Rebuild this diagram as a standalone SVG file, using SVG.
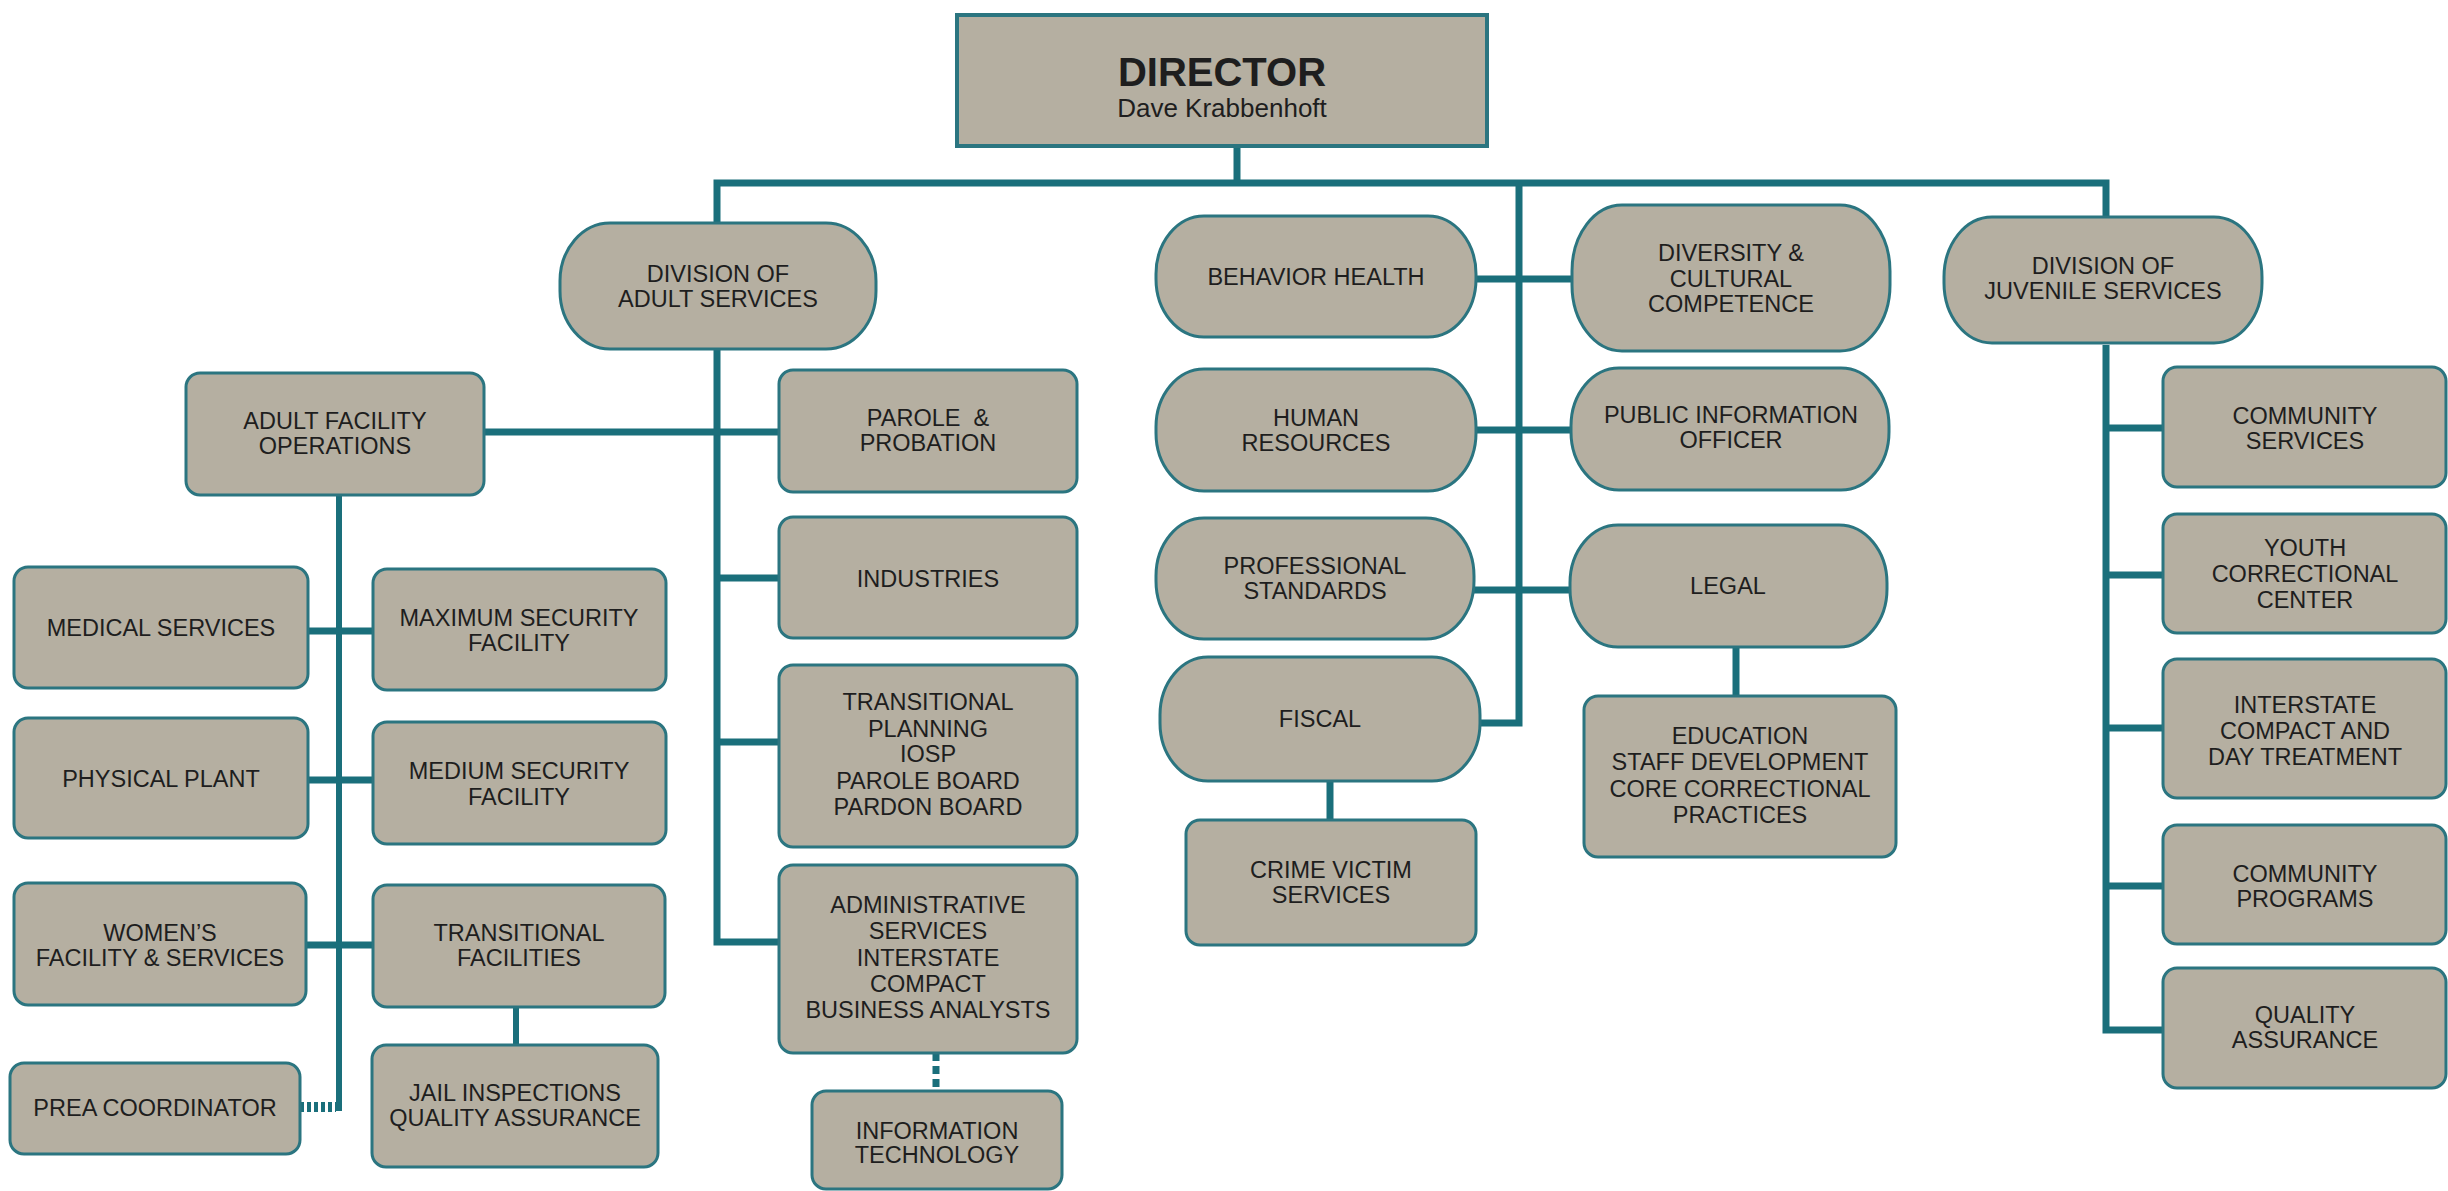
<svg xmlns="http://www.w3.org/2000/svg" width="2448" height="1191" viewBox="0 0 2448 1191">
<style>
.bx{fill:#b5afa1;stroke:#2b7580;stroke-width:3}
.t{font-family:"Liberation Sans",Arial,sans-serif;font-size:23.5px;fill:#1e1e1e;text-anchor:middle}
.c{fill:none;stroke:#1a6f7b;stroke-width:7;stroke-linejoin:miter;stroke-linecap:butt}
</style>
<rect width="2448" height="1191" fill="#ffffff"/>
<g id="connectors">
<path class="c" d="M1237 146V183"/>
<path class="c" d="M717 223V183H2106V217"/>
<path class="c" d="M1519 183V723H1479"/>
<path class="c" d="M1476 279H1572"/>
<path class="c" d="M1476 430H1571"/>
<path class="c" d="M1474 590H1570"/>
<path class="c" d="M1330 781V820"/>
<path class="c" d="M1736 647V696"/>
<path class="c" d="M717 349V942H779"/>
<path class="c" d="M484 432H779"/>
<path class="c" d="M717 578H779"/>
<path class="c" d="M717 742H779"/>
<path class="c" d="M936 1053V1091" stroke-dasharray="8 5"/>
<path class="c" d="M339 495V1111" style="stroke-width:6"/>
<path class="c" d="M300 1107H336" style="stroke-width:10" stroke-dasharray="4 3"/>
<path class="c" d="M308 631H373"/>
<path class="c" d="M308 780H373"/>
<path class="c" d="M306 945H373"/>
<path class="c" d="M516 1007V1045" style="stroke-width:6"/>
<path class="c" d="M2106 345V1030H2163"/>
<path class="c" d="M2106 428H2163"/>
<path class="c" d="M2106 575H2163"/>
<path class="c" d="M2106 728H2163"/>
<path class="c" d="M2106 886H2163"/>
</g>
<g id="director">
<rect class="bx" x="957" y="15" width="530" height="131" style="stroke-width:4"/>
<text class="t" x="1222" y="86" style="font-size:40px;font-weight:bold">DIRECTOR</text>
<text class="t" x="1222" y="117" style="font-size:26px">Dave Krabbenhoft</text>
</g>
<g id="adult-services">
<rect class="bx" x="560" y="223" width="316" height="126" rx="50" ry="58"/>
<text class="t"><tspan x="718" y="282">DIVISION OF</tspan><tspan x="718" y="307">ADULT SERVICES</tspan></text>
</g>
<g id="behavior-health">
<rect class="bx" x="1156" y="216" width="320" height="121" rx="48" ry="58"/>
<text class="t" x="1316" y="284.5">BEHAVIOR HEALTH</text>
</g>
<g id="diversity">
<rect class="bx" x="1572" y="205" width="318" height="146" rx="50" ry="66"/>
<text class="t"><tspan x="1731" y="261">DIVERSITY &amp;</tspan><tspan x="1731" y="286.5">CULTURAL</tspan><tspan x="1731" y="312">COMPETENCE</tspan></text>
</g>
<g id="juvenile-services">
<rect class="bx" x="1944" y="217" width="318" height="126" rx="48" ry="60"/>
<text class="t"><tspan x="2103" y="274">DIVISION OF</tspan><tspan x="2103" y="299">JUVENILE SERVICES</tspan></text>
</g>
<g id="human-resources">
<rect class="bx" x="1156" y="369" width="320" height="122" rx="48" ry="58"/>
<text class="t"><tspan x="1316" y="426">HUMAN</tspan><tspan x="1316" y="451">RESOURCES</tspan></text>
</g>
<g id="public-information">
<rect class="bx" x="1571" y="368" width="318" height="122" rx="48" ry="58"/>
<text class="t"><tspan x="1731" y="423">PUBLIC INFORMATION</tspan><tspan x="1731" y="448">OFFICER</tspan></text>
</g>
<g id="professional-standards">
<rect class="bx" x="1156" y="518" width="318" height="121" rx="48" ry="58"/>
<text class="t"><tspan x="1315" y="574">PROFESSIONAL</tspan><tspan x="1315" y="599">STANDARDS</tspan></text>
</g>
<g id="legal">
<rect class="bx" x="1570" y="525" width="317" height="122" rx="48" ry="58"/>
<text class="t" x="1728" y="593.5">LEGAL</text>
</g>
<g id="fiscal">
<rect class="bx" x="1160" y="657" width="320" height="124" rx="48" ry="58"/>
<text class="t" x="1320" y="726.5">FISCAL</text>
</g>
<g id="crime-victim">
<rect class="bx" x="1186" y="820" width="290" height="125" rx="14"/>
<text class="t"><tspan x="1331" y="878">CRIME VICTIM</tspan><tspan x="1331" y="903">SERVICES</tspan></text>
</g>
<g id="education">
<rect class="bx" x="1584" y="696" width="312" height="161" rx="14"/>
<text class="t"><tspan x="1740" y="744">EDUCATION</tspan><tspan x="1740" y="770">STAFF DEVELOPMENT</tspan><tspan x="1740" y="797">CORE CORRECTIONAL</tspan><tspan x="1740" y="823">PRACTICES</tspan></text>
</g>
<g id="adult-facility-operations">
<rect class="bx" x="186" y="373" width="298" height="122" rx="14"/>
<text class="t"><tspan x="335" y="429">ADULT FACILITY</tspan><tspan x="335" y="454">OPERATIONS</tspan></text>
</g>
<g id="parole-probation">
<rect class="bx" x="779" y="370" width="298" height="122" rx="14"/>
<text class="t" style="white-space:pre"><tspan x="928" y="426">PAROLE  &amp;</tspan><tspan x="928" y="451">PROBATION</tspan></text>
</g>
<g id="industries">
<rect class="bx" x="779" y="517" width="298" height="121" rx="14"/>
<text class="t" x="928" y="586.5">INDUSTRIES</text>
</g>
<g id="transitional-planning">
<rect class="bx" x="779" y="665" width="298" height="182" rx="14"/>
<text class="t"><tspan x="928" y="710">TRANSITIONAL</tspan><tspan x="928" y="737">PLANNING</tspan><tspan x="928" y="762">IOSP</tspan><tspan x="928" y="789">PAROLE BOARD</tspan><tspan x="928" y="815">PARDON BOARD</tspan></text>
</g>
<g id="administrative-services">
<rect class="bx" x="779" y="865" width="298" height="188" rx="14"/>
<text class="t"><tspan x="928" y="913">ADMINISTRATIVE</tspan><tspan x="928" y="939">SERVICES</tspan><tspan x="928" y="966">INTERSTATE</tspan><tspan x="928" y="992">COMPACT</tspan><tspan x="928" y="1018">BUSINESS ANALYSTS</tspan></text>
</g>
<g id="information-technology">
<rect class="bx" x="812" y="1091" width="250" height="98" rx="14"/>
<text class="t"><tspan x="937" y="1139">INFORMATION</tspan><tspan x="937" y="1163">TECHNOLOGY</tspan></text>
</g>
<g id="medical-services">
<rect class="bx" x="14" y="567" width="294" height="121" rx="14"/>
<text class="t" x="161" y="635.5">MEDICAL SERVICES</text>
</g>
<g id="maximum-security">
<rect class="bx" x="373" y="569" width="293" height="121" rx="14"/>
<text class="t"><tspan x="519" y="625.5">MAXIMUM SECURITY</tspan><tspan x="519" y="650.5">FACILITY</tspan></text>
</g>
<g id="physical-plant">
<rect class="bx" x="14" y="718" width="294" height="120" rx="14"/>
<text class="t" x="161" y="786.5">PHYSICAL PLANT</text>
</g>
<g id="medium-security">
<rect class="bx" x="373" y="722" width="293" height="122" rx="14"/>
<text class="t"><tspan x="519" y="778.5">MEDIUM SECURITY</tspan><tspan x="519" y="804.5">FACILITY</tspan></text>
</g>
<g id="womens-facility">
<rect class="bx" x="14" y="883" width="292" height="122" rx="14"/>
<text class="t"><tspan x="160" y="940.5">WOMEN’S</tspan><tspan x="160" y="965.5">FACILITY &amp; SERVICES</tspan></text>
</g>
<g id="transitional-facilities">
<rect class="bx" x="373" y="885" width="292" height="122" rx="14"/>
<text class="t"><tspan x="519" y="940.5">TRANSITIONAL</tspan><tspan x="519" y="965.5">FACILITIES</tspan></text>
</g>
<g id="prea-coordinator">
<rect class="bx" x="10" y="1063" width="290" height="91" rx="14"/>
<text class="t" x="155" y="1115.5">PREA COORDINATOR</text>
</g>
<g id="jail-inspections">
<rect class="bx" x="372" y="1045" width="286" height="122" rx="14"/>
<text class="t"><tspan x="515" y="1100.5">JAIL INSPECTIONS</tspan><tspan x="515" y="1125.5">QUALITY ASSURANCE</tspan></text>
</g>
<g id="community-services">
<rect class="bx" x="2163" y="367" width="283" height="120" rx="14"/>
<text class="t"><tspan x="2305" y="423.5">COMMUNITY</tspan><tspan x="2305" y="448.5">SERVICES</tspan></text>
</g>
<g id="youth-correctional">
<rect class="bx" x="2163" y="514" width="283" height="119" rx="14"/>
<text class="t"><tspan x="2305" y="555.5">YOUTH</tspan><tspan x="2305" y="581.5">CORRECTIONAL</tspan><tspan x="2305" y="607.5">CENTER</tspan></text>
</g>
<g id="interstate-compact">
<rect class="bx" x="2163" y="659" width="283" height="139" rx="14"/>
<text class="t"><tspan x="2305" y="712.5">INTERSTATE</tspan><tspan x="2305" y="738.5">COMPACT AND</tspan><tspan x="2305" y="764.5">DAY TREATMENT</tspan></text>
</g>
<g id="community-programs">
<rect class="bx" x="2163" y="825" width="283" height="119" rx="14"/>
<text class="t"><tspan x="2305" y="881.5">COMMUNITY</tspan><tspan x="2305" y="906.5">PROGRAMS</tspan></text>
</g>
<g id="quality-assurance">
<rect class="bx" x="2163" y="968" width="283" height="120" rx="14"/>
<text class="t"><tspan x="2305" y="1023">QUALITY</tspan><tspan x="2305" y="1048">ASSURANCE</tspan></text>
</g>
</svg>
